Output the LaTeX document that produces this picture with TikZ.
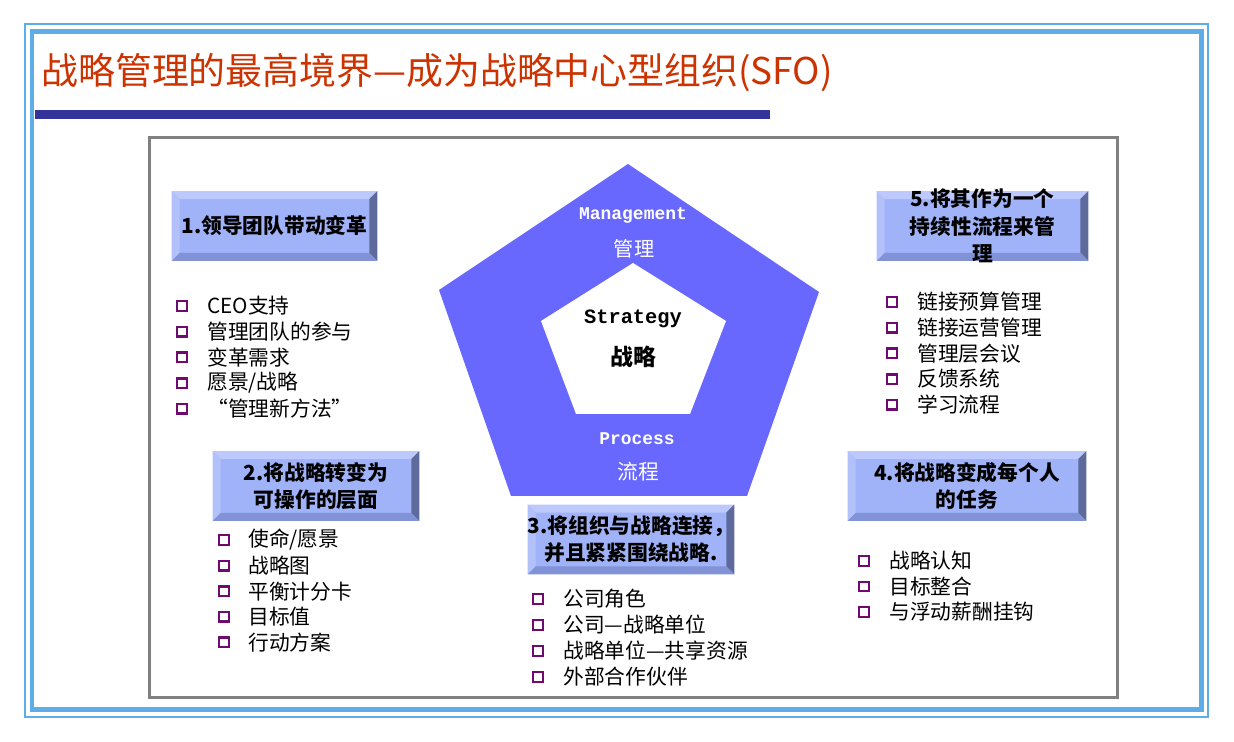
\documentclass[tikz,border=0pt]{standalone}
\usepackage{fontspec}
\setmainfont{Noto Sans CJK SC}
\newfontfamily\latinfont{Liberation Mono}
\usetikzlibrary{calc}
\definecolor{framecol}{HTML}{5DADE9}
\definecolor{titlecol}{HTML}{CC3300}
\definecolor{barcol}{HTML}{333399}
\definecolor{pentcol}{HTML}{6868FF}
\definecolor{btnface}{HTML}{A0B2F8}
\definecolor{btntop}{HTML}{BDC9FD}
\definecolor{btnleft}{HTML}{B3C1FB}
\definecolor{btnright}{HTML}{5E6A9C}
\definecolor{btnbot}{HTML}{8193D6}
\definecolor{bulcol}{HTML}{700A70}
\tikzset{
  btn/.style={fill=btnface, minimum width=#1, minimum height=1.38cm,
    inner sep=0pt},
  btntxt/.style={font=\bfseries\fontsize{11.8}{15.5}\selectfont, align=center,
    inner sep=0pt, text=black},
  itm/.style={font=\fontsize{11.8}{14}\selectfont, anchor=west, inner sep=0pt},
  bul/.style={draw=bulcol, line width=1.4pt, fill=white, minimum size=0.19cm,
    inner sep=0pt},
  pentlab/.style={text=white, inner sep=0pt},
  ttl/.style={font=\fontsize{21}{24}\selectfont, text=titlecol, anchor=west,
    inner sep=0pt}}
\begin{document}
\begin{tikzpicture}[x=0.02cm, y=-0.02cm]
    \useasboundingbox (0,0) rectangle (1234,742);
    % frames
    \draw[framecol, line width=1.1pt] (25,24) rectangle (1208,717);
    \draw[framecol, line width=2.8pt] (32,31.5) rectangle (1201.5,709.5);
    \node[ttl] (title) at (41,73) {战略管理的最高境界—成为战略中心型组织(SFO)};
    \fill[barcol] (35,110) rectangle (770,119);
    \draw[black!50, line width=1.7pt] (149.5,137.5) rectangle (1117.5,697.5);
    % pentagon
    \fill[pentcol] (628,164) -- (819,292) -- (747,496) -- (511,496) -- (439,290) -- cycle;
    \fill[white] (633,263) -- (726,321) -- (690,414) -- (576,414) -- (541,321) -- cycle;
    \node[pentlab, font=\latinfont\bfseries\fontsize{10.2}{12}\selectfont] (mgmt) at (633,215) {Management};
    \node[pentlab, font=\fontsize{11.5}{12}\selectfont] (mgmtc) at (634,249) {管理};
    \node[inner sep=0pt, font=\latinfont\bfseries\fontsize{11.6}{12}\selectfont] (strat) at (633,319) {Strategy};
    \node[inner sep=0pt, font=\bfseries\fontsize{13}{14}\selectfont] (stratc) at (633,357) {战略};
    \node[pentlab, font=\latinfont\bfseries\fontsize{10.2}{12}\selectfont] (proc) at (637,439) {Process};
    \node[pentlab, font=\fontsize{11.8}{12}\selectfont] (procc) at (638,472) {流程};
    % buttons
    \node[btn=4.1cm]  (b1) at (274.5,226) {};
    \node[btn=4.12cm] (b2) at (316,486) {};
    \node[btn=4.12cm] (b3) at (631,539.5) {};
    \node[btn=4.76cm] (b4) at (967,486) {};
    \node[btn=4.22cm] (b5) at (982.5,226) {};
    \foreach \b in {b1,b2,b3,b4,b5} {
      \fill[btntop] (\b.north west) -- (\b.north east) -- ($(\b.north east)+(-8,8)$) -- ($(\b.north west)+(8,8)$) -- cycle;
      \fill[btnleft] (\b.north west) -- ($(\b.north west)+(8,8)$) -- ($(\b.south west)+(8,-8)$) -- (\b.south west) -- cycle;
      \fill[btnright] (\b.north east) -- (\b.south east) -- ($(\b.south east)+(-8,-8)$) -- ($(\b.north east)+(-8,8)$) -- cycle;
      \fill[btnbot] (\b.south west) -- ($(\b.south west)+(8,-8)$) -- ($(\b.south east)+(-8,-8)$) -- (\b.south east) -- cycle;
    }
    \node[btntxt] (t1) at (b1) {1.领导团队带动变革};
    \node[btntxt] (t2) at (b2) {2.将战略转变为\\可操作的层面};
    \node[btntxt] (t3) at (b3) {3.将组织与战略连接，\\并且紧紧围绕战略.};
    \node[btntxt] (t4) at (b4) {4.将战略变成每个人\\的任务};
    \node[btntxt] (t5) at (b5) {5.将其作为一个\\持续性流程来管\\理};
    % bullet lists
    \foreach \t [count=\i] in {CEO支持,管理团队的参与,变革需求,愿景/战略,“管理新方法”} {
      \node[bul] (p1\i) at (182,{306+25.7*(\i-1)}) {};
      \node[itm] (q1\i) at (207,{306+25.7*(\i-1)}) {\t};
    }
    \foreach \t [count=\i] in {使命/愿景,战略图,平衡计分卡,目标值,行动方案} {
      \node[bul] (p2\i) at (224,{540+25.6*(\i-1)}) {};
      \node[itm] (q2\i) at (248,{540+25.6*(\i-1)}) {\t};
    }
    \foreach \t [count=\i] in {公司角色,公司—战略单位,战略单位—共享资源,外部合作伙伴} {
      \node[bul] (p3\i) at (538,{599+26*(\i-1)}) {};
      \node[itm] (q3\i) at (563,{599+26*(\i-1)}) {\t};
    }
    \foreach \t [count=\i] in {战略认知,目标整合,与浮动薪酬挂钩} {
      \node[bul] (p4\i) at (864,{561+25.5*(\i-1)}) {};
      \node[itm] (q4\i) at (889,{561+25.5*(\i-1)}) {\t};
    }
    \foreach \t [count=\i] in {链接预算管理,链接运营管理,管理层会议,反馈系统,学习流程} {
      \node[bul] (p5\i) at (892,{302+25.7*(\i-1)}) {};
      \node[itm] (q5\i) at (917,{302+25.7*(\i-1)}) {\t};
    }
\end{tikzpicture}
\end{document}
